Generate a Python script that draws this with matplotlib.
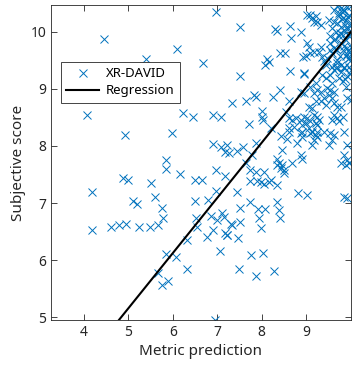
#!/usr/bin/env python3

import numpy as np
import matplotlib
matplotlib.use('Agg')
import matplotlib.pyplot as plt

plt.rcParams['font.family'] = ['Noto Sans', 'DejaVu Sans']

# metric prediction vs subjective score
metric_pred = [
    4.45, 6.10, 5.39, 4.08, 6.22, 6.45, 4.92, 5.99, 5.85, 5.84, 6.17, 4.89, 5.00, 5.51,
    6.49, 4.18, 5.60, 5.11, 5.19, 6.49, 5.75, 5.78, 6.53, 4.18, 4.62, 4.80, 4.95, 5.24,
    5.50, 5.68, 6.55, 6.32, 5.85, 6.08, 6.32, 5.67, 5.90, 5.75, 6.76, 7.21, 7.07, 7.75,
    8.03, 7.48, 7.88, 8.27, 6.94, 6.98, 7.52, 6.68, 7.52, 7.65, 7.33, 6.91, 7.09,
    7.71, 8.02, 8.21, 6.90, 7.09, 7.22, 7.18, 7.26, 7.45, 7.57, 7.65, 6.98, 7.17, 6.66,
    7.73, 7.73, 8.61, 9.24, 9.06, 8.91, 6.80, 6.98, 7.45, 7.73, 7.52, 8.38, 8.40, 7.91,
    8.06, 7.93, 7.97, 7.11, 7.15, 7.30, 7.33, 6.87, 7.00, 7.52, 6.91, 7.18, 7.22, 7.47,
    8.33, 8.30, 8.63, 8.66, 8.88, 8.40, 8.51, 8.92, 8.12, 8.16, 8.07, 8.63, 8.40, 7.82,
    7.86, 8.25, 8.61, 8.01, 8.01, 8.94, 8.87, 8.94, 8.55, 8.61, 8.68, 8.76, 8.72, 8.87,
    8.87,
    7.88, 8.44, 8.61, 8.57, 8.79, 8.91, 8.46, 7.78, 8.33, 8.38, 8.46, 8.49, 8.42, 8.49,
    8.33, 8.68, 8.87, 7.88, 8.05, 7.90, 8.05, 8.16, 8.20, 8.35, 7.97, 8.82, 8.35,
    9.13, 9.21, 9.17, 9.13, 9.24, 9.39, 9.54, 9.62, 9.51, 9.58, 9.84, 9.92, 8.91, 9.84,
    9.92, 9.77, 9.88, 9.96, 9.02, 9.84, 9.92,
    9.02, 9.09, 9.13, 9.21, 9.24, 9.17, 9.32, 9.02, 9.06, 9.17, 9.28, 9.32, 9.09, 8.98,
    9.36, 9.39, 9.43, 9.47, 9.54, 9.58, 9.62,
    9.62, 9.69, 9.73, 9.77, 9.81, 9.84, 9.88, 9.92, 9.96, 9.99, 9.99, 9.92, 9.84, 9.77,
    9.69, 9.66, 9.73, 9.62, 9.54, 9.77, 9.88, 9.96, 9.99, 9.81, 9.69, 9.81, 9.92, 9.99,
    9.88, 9.96, 9.99, 9.69, 9.77, 9.58, 9.66, 9.84, 9.96, 9.51, 9.58, 9.62, 9.53,
    8.94, 9.36, 9.43, 9.54, 9.62, 9.69, 9.77, 9.84, 9.92, 9.99, 9.73, 9.81, 9.58,
    9.21, 9.09, 9.24, 9.32, 9.17, 9.47, 9.54, 9.62, 9.51, 9.58, 9.39, 9.32, 9.21, 9.43,
    9.62, 9.69, 9.77, 9.92, 9.99, 9.06, 9.13,
    8.94, 9.02, 9.17, 9.24, 9.28, 9.09, 8.98, 9.21, 9.62, 9.69, 9.81, 9.58, 9.73,
    8.91, 9.09, 9.24,
    9.86, 9.94, 9.75, 9.90, 9.98, 9.80, 9.71, 9.87, 9.95, 9.64, 9.83, 9.91, 9.97, 9.76,
    9.89, 9.68, 9.93, 9.79, 9.85, 9.97,
]
subj_score = [
    9.88, 9.70, 9.53, 8.54, 8.58, 8.50, 8.19, 8.23, 7.75, 7.60, 7.51, 7.44, 7.41, 7.35,
    7.40, 7.19, 7.11, 7.04, 6.99, 7.04, 6.92, 6.73, 6.73, 6.52, 6.58, 6.61, 6.63, 6.58,
    6.58, 6.61, 6.58, 6.36, 6.11, 6.05, 5.85, 5.78, 5.64, 5.57, 6.41, 6.44, 6.16, 6.09,
    6.13, 5.84, 5.72, 5.81, 4.95, 10.34, 10.08, 9.45, 9.23, 8.79, 8.76, 8.54, 8.51,
    8.39, 8.46, 8.31, 8.03, 7.98, 8.01, 7.90, 7.87, 7.91, 7.98, 7.71, 7.58, 7.48, 7.40,
    7.58, 7.39, 8.31, 8.37, 8.31, 8.37, 7.06, 7.21, 7.20, 7.02, 6.92, 6.88, 6.74, 6.89,
    6.89, 6.73, 6.57, 6.83, 6.76, 6.64, 6.61, 6.77, 6.70, 6.67, 6.53, 6.47, 6.44, 6.38,
    10.02, 10.05, 10.11, 9.89, 9.99, 9.63, 9.63, 9.56, 9.52, 9.47, 9.41, 9.32, 8.98, 8.90,
    8.86, 8.85, 8.79, 8.62, 8.50, 9.26, 8.95, 8.92, 8.60, 8.49, 8.46, 8.49, 8.34, 8.46,
    8.22,
    8.06, 8.18, 8.25, 8.13, 8.05, 8.16, 7.93, 7.84, 7.77, 7.70, 7.67, 7.58, 7.61, 7.52,
    7.67, 7.71, 7.84, 7.55, 7.55, 7.39, 7.34, 7.37, 7.40, 7.32, 7.37, 7.18, 7.02,
    8.25, 8.19, 8.11, 8.02, 8.16, 8.25, 8.22, 8.19, 8.02, 8.11, 8.25, 8.02, 7.78, 7.84,
    7.76, 7.70, 7.67, 7.70, 7.14, 7.11, 7.08,
    10.30, 10.30, 10.24, 10.27, 10.18, 10.18, 10.12, 9.80, 9.74, 9.65, 9.65, 9.74, 9.63, 9.57,
    9.56, 9.48, 9.42, 9.54, 9.68, 9.63, 9.71,
    10.38, 10.45, 10.33, 10.41, 10.24, 10.36, 10.21, 10.44, 10.30, 10.46, 10.15, 10.09, 10.03, 10.09,
    10.15, 10.00, 9.92, 9.86, 9.80, 9.80, 9.86, 9.92, 9.98, 9.95, 9.68, 9.68, 9.71, 9.74,
    9.57, 9.54, 9.62, 9.51, 9.42, 9.39, 9.36, 9.39, 9.39, 10.21, 10.06, 10.18, 9.92,
    9.27, 9.25, 9.19, 9.25, 9.33, 9.39, 9.30, 9.36, 9.22, 9.33, 9.19, 9.13, 9.10,
    9.10, 9.04, 8.98, 8.95, 8.92, 9.01, 8.98, 8.95, 8.90, 8.84, 8.84, 8.78, 8.78, 8.72,
    8.75, 8.69, 8.69, 8.84, 8.81, 8.69, 8.66,
    8.51, 8.49, 8.54, 8.51, 8.46, 8.43, 8.40, 8.40, 8.54, 8.49, 8.51, 8.46, 8.43,
    8.25, 8.22, 8.25,
    10.12, 10.26, 9.98, 9.62, 9.48, 10.34, 10.27, 9.18, 9.55, 9.87, 10.40, 10.05, 9.26, 9.57,
    9.03, 9.45, 9.66, 10.22, 9.75, 10.10,
]

# regression line coefficients
reg_slope = 0.97
reg_intercept = 0.30

x_ticks = [4, 5, 6, 7, 8, 9]
y_ticks = [5, 6, 7, 8, 9, 10]
x_lim = (3.27, 10.0)
y_lim = (4.95, 10.47)

blue = '#0072BD'
dark = '#262626'

fig = plt.figure(figsize=(3.56, 3.69), dpi=100)
ax = fig.add_axes([51/356, 49/369, 300/356, 315/369])

ax.plot(metric_pred, subj_score, 'x', color=blue, markersize=6,
        markeredgewidth=0.7, label='XR-DAVID')
xs = np.array(x_lim)
ax.plot(xs, reg_slope*xs + reg_intercept, '-', color='k', lw=1.5,
        label='Regression')

ax.set_xlim(*x_lim)
ax.set_ylim(*y_lim)
ax.set_xticks(x_ticks)
ax.set_yticks(y_ticks)
ax.tick_params(direction='in', top=True, right=True, length=4, width=0.6,
               colors=dark, labelsize=10)
for sp in ax.spines.values():
    sp.set_color(dark)
    sp.set_linewidth(0.6)

ax.set_xlabel('Metric prediction', fontsize=11, color=dark, labelpad=3)
ax.set_ylabel('Subjective score', fontsize=11, color=dark, labelpad=3)

leg = ax.legend(loc='upper left', bbox_to_anchor=(0.033, 0.819),
                borderaxespad=0, fontsize=9.5, fancybox=False, framealpha=1,
                edgecolor=dark, borderpad=0.4, handlelength=2.5,
                handletextpad=0.5, labelspacing=0.3)
leg.get_frame().set_linewidth(0.6)

fig.savefig('out.png', dpi=100)
